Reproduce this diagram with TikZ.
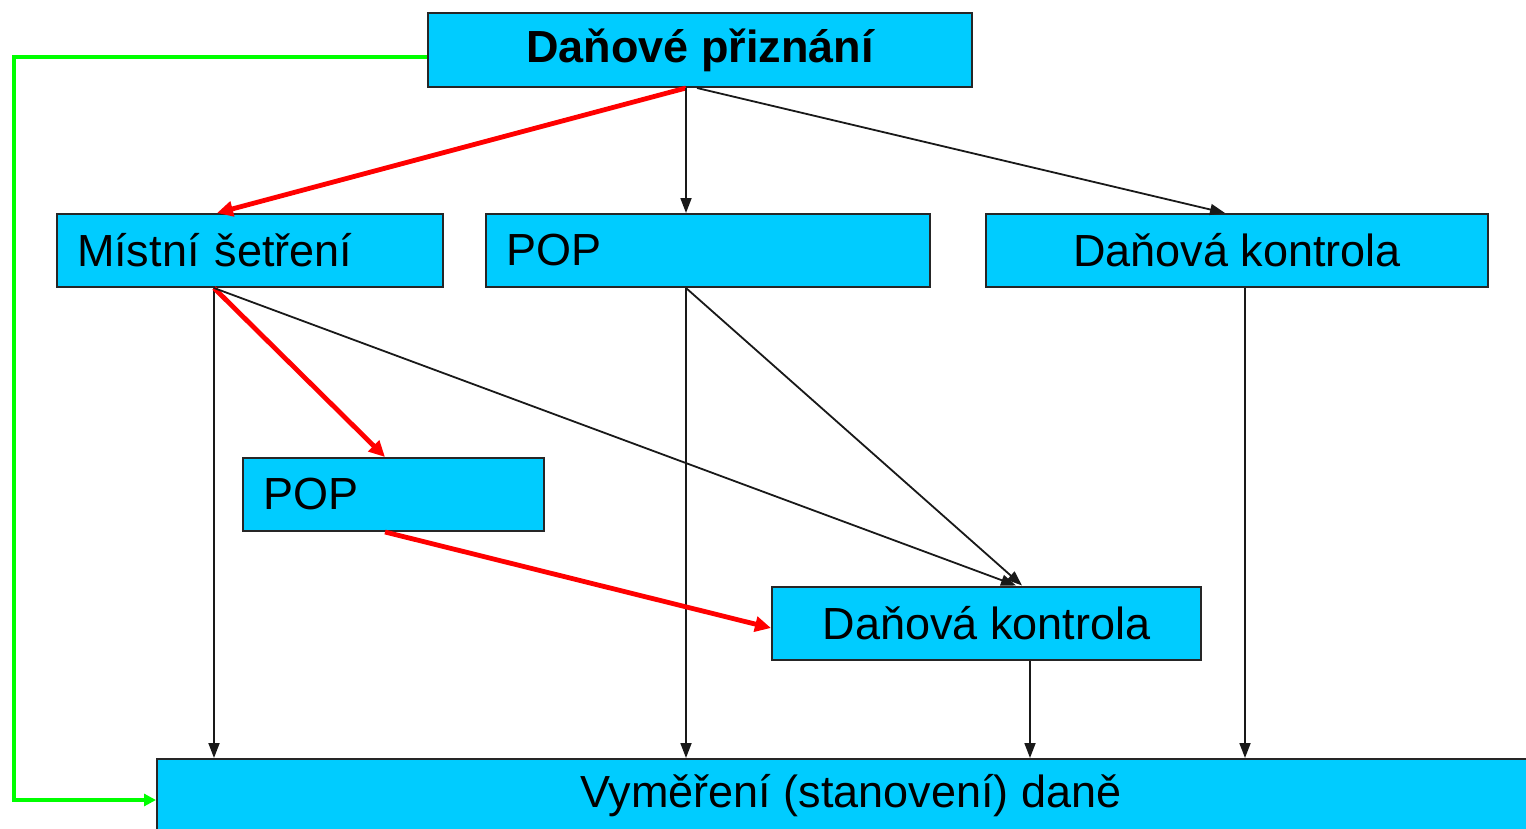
\documentclass[tikz,border=0pt]{standalone}
\usepackage{fontspec}
\setmainfont{Liberation Sans}
\usetikzlibrary{arrows.meta}
\definecolor{boxc}{RGB}{0,204,255}
\definecolor{grn}{RGB}{0,255,0}
\definecolor{rd}{RGB}{255,0,0}
\begin{document}
\begin{tikzpicture}[x=0.5pt,y=-0.5pt,
  box/.style={draw=black!85, line width=1pt, fill=boxc, inner sep=0pt,
    minimum height=36.5pt, font=\fontsize{22.5pt}{27pt}\selectfont},
  lbox/.style={box, inner xsep=10pt, align=left},
  blk/.style={draw=black!90, line width=0.9pt, -{Triangle[length=7.5pt,width=5.5pt]}},
  red/.style={draw=rd, line width=2.4pt, -{Triangle[length=8pt,width=7.5pt]}},
  green/.style={draw=grn, line width=2pt, -{Triangle[length=6pt,width=6pt]}}]
\clip (0,0) rectangle (1526,829);
\fill[white] (0,0) rectangle (1526,829);
% boxes
\node[box, minimum width=272pt, minimum height=37pt, font=\fontsize{22.5pt}{27pt}\selectfont\bfseries] (top) at (700,50) {Daňové přiznání};
\node[lbox, text width=173pt] (mist) at (250,250.5) {Místní šetření};
\node[lbox, text width=202pt] (pop1) at (708,250.5) {POP};
\node[box, minimum width=251pt] (dk1) at (1237,250.5) {Daňová kontrola};
\node[lbox, text width=130.5pt] (pop2) at (393.5,494.5) {POP};
\node[box, minimum width=214.5pt] (dk2) at (986.5,623) {Daňová kontrola};
\node[box, minimum width=720pt, minimum height=37pt] (vym) at (877,796) {\hspace*{-26pt}Vyměření (stanovení) daně};
% connectors
\coordinate (gcorner) at (14,57);
\draw[green] ([yshift=-3.5pt]top.west) -- (gcorner) |- ([yshift=-2pt]vym.west);
\draw[red] ([xshift=-7pt]top.south) -- ([xshift=-16.5pt]mist.north);
\draw[blk] ([xshift=-7pt]top.south) -- ([xshift=-11pt]pop1.north);
\draw[blk] ([xshift=-1.5pt]top.south) -- ([xshift=-6pt]dk1.north);
\draw[blk] ([xshift=-18pt]mist.south) -- ([xshift=-18pt]mist.south |- vym.north);
\draw[red] ([xshift=-18pt]mist.south) -- ([xshift=-4.25pt]pop2.north);
\draw[blk] ([xshift=-18pt]mist.south) -- ([xshift=14.75pt]dk2.north);
\draw[blk] ([xshift=-11pt]pop1.south) -- ([xshift=-11pt]pop1.south |- vym.north);
\draw[blk] ([xshift=-11pt]pop1.south) -- ([xshift=17.75pt]dk2.north);
\draw[blk] ([xshift=4pt]dk1.south) -- ([xshift=4pt]dk1.south |- vym.north);
\draw[red] ([xshift=-4.25pt]pop2.south) -- ([yshift=-2.5pt]dk2.west);
\draw[blk] ([xshift=21.75pt]dk2.south) -- ([xshift=21.75pt]dk2.south |- vym.north);
\end{tikzpicture}
\end{document}
